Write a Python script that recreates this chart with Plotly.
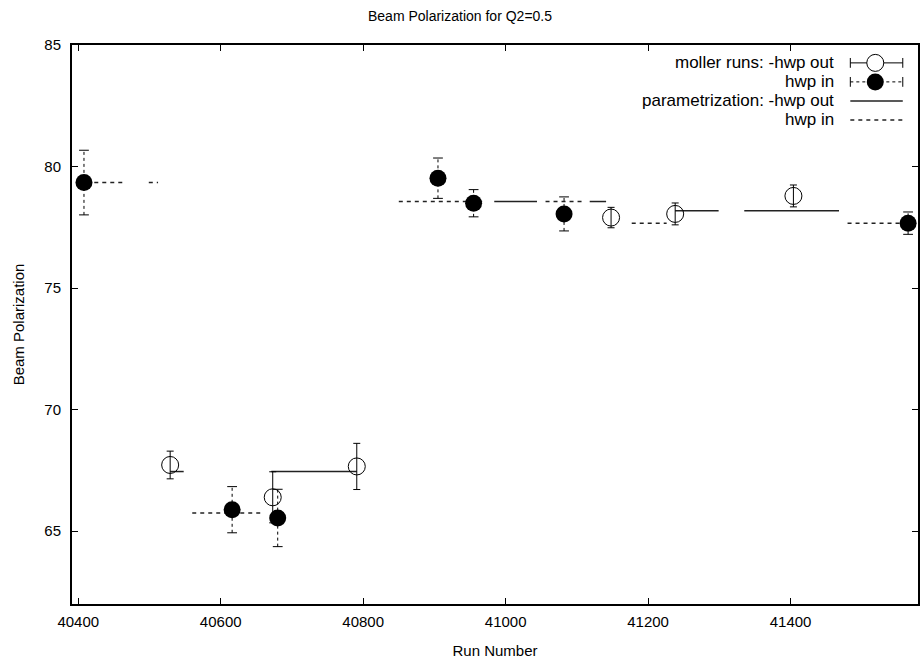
import plotly.graph_objects as go

# ---- data ----
out_runs = [40529, 40673, 40791, 41148, 41238, 41404]
out_pol = [67.72, 66.39, 67.66, 77.90, 78.05, 78.79]
out_err = [0.57, 1.05, 0.95, 0.42, 0.45, 0.45]

in_runs = [40408, 40616, 40680, 40905, 40955, 41082, 41565]
in_pol = [79.34, 65.88, 65.54, 79.52, 78.49, 78.05, 77.67]
in_err = [1.33, 0.95, 1.18, 0.83, 0.56, 0.70, 0.46]

par_out_start = [40529, 40671, 40984, 41118, 41238, 41335]
par_out_end = [40548, 40791, 41044, 41141, 41299, 41468]
par_out_val = [67.45, 67.45, 78.56, 78.56, 78.18, 78.18]

par_in_start = [40400, 40499, 40560, 40850, 41056, 41177, 41480]
par_in_end = [40464, 40512, 40657, 40967, 41110, 41226, 41600]
par_in_val = [79.34, 79.34, 65.74, 78.56, 78.56, 77.67, 77.67]

x_ticks = [40400, 40600, 40800, 41000, 41200, 41400]
y_ticks = [65, 70, 75, 80, 85]

FONT = "Liberation Sans, Arial, Helvetica, sans-serif"
LINE = "#222222"
DASH = "4px,4px"


def segs(starts, ends, vals):
    xs, ys = [], []
    for a, b, v in zip(starts, ends, vals):
        xs += [a, b, None]
        ys += [v, v, None]
    return xs, ys


def vbars(xs_, ys_, es_):
    xs, ys = [], []
    for x, y, e in zip(xs_, ys_, es_):
        xs += [x, x, None]
        ys += [y - e, y + e, None]
    return xs, ys


fig = go.Figure()

# parametrization lines
px, py = segs(par_out_start, par_out_end, par_out_val)
fig.add_trace(go.Scatter(x=px, y=py, mode="lines", line=dict(color=LINE, width=1.5),
                         showlegend=False, hoverinfo="skip"))
qx, qy = segs(par_in_start, par_in_end, par_in_val)
fig.add_trace(go.Scatter(x=qx, y=qy, mode="lines", line=dict(color=LINE, width=1.5, dash=DASH),
                         showlegend=False, hoverinfo="skip"))

# hwp in: dashed error bars + caps
ex, ey = vbars(in_runs, in_pol, in_err)
fig.add_trace(go.Scatter(x=ex, y=ey, mode="lines", line=dict(color="black", width=1, dash="3px,3px"),
                         showlegend=False, hoverinfo="skip"))
cap_x = in_runs + in_runs
cap_y = [p + e for p, e in zip(in_pol, in_err)] + [p - e for p, e in zip(in_pol, in_err)]
fig.add_trace(go.Scatter(x=cap_x, y=cap_y, mode="markers",
                         marker=dict(symbol="line-ew-open", size=7, color="black",
                                     line=dict(color="black", width=1)),
                         showlegend=False, hoverinfo="skip"))

# moller runs hwp out (open circles, solid error bars)
fig.add_trace(go.Scatter(x=out_runs, y=out_pol, mode="markers",
                         error_y=dict(type="data", array=out_err, visible=True, color="black",
                                      thickness=1, width=3.5),
                         marker=dict(symbol="circle-open", size=17, color="black",
                                     line=dict(color="black", width=1)),
                         showlegend=False))
# moller runs hwp in (filled circles)
fig.add_trace(go.Scatter(x=in_runs, y=in_pol, mode="markers",
                         marker=dict(symbol="circle", size=17, color="black"),
                         showlegend=False))

# ---- custom legend (text left, sample right) on an overlay axis in [0,1] ----
lx0, lx1, lxc = 0.920, 0.982, 0.9495
rows = [0.968, 0.934, 0.900, 0.866]
fig.add_trace(go.Scatter(x=[lx0, lx1], y=[rows[0], rows[0]], xaxis="x2", yaxis="y2", mode="lines",
                         line=dict(color="black", width=1), showlegend=False, hoverinfo="skip"))
fig.add_trace(go.Scatter(x=[lx0, lx1], y=[rows[0], rows[0]], xaxis="x2", yaxis="y2", mode="markers",
                         marker=dict(symbol="line-ns-open", size=7, color="black",
                                     line=dict(color="black", width=1)),
                         showlegend=False, hoverinfo="skip"))
fig.add_trace(go.Scatter(x=[lxc], y=[rows[0]], xaxis="x2", yaxis="y2", mode="markers",
                         marker=dict(symbol="circle", size=17, color="white",
                                     line=dict(color="black", width=1)),
                         showlegend=False, hoverinfo="skip"))
fig.add_trace(go.Scatter(x=[lx0, lx1], y=[rows[1], rows[1]], xaxis="x2", yaxis="y2", mode="lines",
                         line=dict(color="black", width=1, dash="3px,3px"), showlegend=False, hoverinfo="skip"))
fig.add_trace(go.Scatter(x=[lx0, lx1], y=[rows[1], rows[1]], xaxis="x2", yaxis="y2", mode="markers",
                         marker=dict(symbol="line-ns-open", size=7, color="black",
                                     line=dict(color="black", width=1)),
                         showlegend=False, hoverinfo="skip"))
fig.add_trace(go.Scatter(x=[lxc], y=[rows[1]], xaxis="x2", yaxis="y2", mode="markers",
                         marker=dict(symbol="circle", size=17, color="black"),
                         showlegend=False, hoverinfo="skip"))
fig.add_trace(go.Scatter(x=[lx0, lx1], y=[rows[2], rows[2]], xaxis="x2", yaxis="y2", mode="lines",
                         line=dict(color=LINE, width=1.5), showlegend=False, hoverinfo="skip"))
fig.add_trace(go.Scatter(x=[lx0, lx1], y=[rows[3], rows[3]], xaxis="x2", yaxis="y2", mode="lines",
                         line=dict(color=LINE, width=1.5, dash=DASH), showlegend=False, hoverinfo="skip"))

legend_texts = ["moller runs: -hwp out", "hwp in", "parametrization: -hwp out", "hwp in"]
for t, r in zip(legend_texts, rows):
    fig.add_annotation(x=0.903, y=r, xref="x2", yref="y2", text=t, showarrow=False,
                       xanchor="right", yanchor="middle", font=dict(family=FONT, size=17, color="black"))

axis_common = dict(showline=True, linecolor="black", linewidth=2, mirror="ticks",
                   ticks="inside", ticklen=6, tickcolor="black", tickwidth=1,
                   showgrid=False, zeroline=False,
                   tickfont=dict(family=FONT, size=15, color="black"))

fig.update_layout(
    width=920, height=666,
    margin=dict(l=72, r=0, t=45, b=62),
    paper_bgcolor="white", plot_bgcolor="white",
    title=dict(text="Beam Polarization for Q2=0.5", x=0.5, xanchor="center", y=0.976, yanchor="middle",
               font=dict(family=FONT, size=14, color="black")),
    xaxis=dict(range=[40391.2, 41578.9], tickvals=x_ticks, ticktext=[str(v) for v in x_ticks],
               ticklabelstandoff=3,
               title=dict(text="Run Number", font=dict(family=FONT, size=15, color="black"), standoff=16),
               **axis_common),
    yaxis=dict(range=[62, 85], tickvals=y_ticks, ticktext=[str(v) for v in y_ticks],
               ticklabelstandoff=6,
               title=dict(text="Beam Polarization", font=dict(family=FONT, size=15, color="black"), standoff=16),
               **axis_common),
    xaxis2=dict(range=[0, 1], overlaying="x", visible=False, fixedrange=True),
    yaxis2=dict(range=[0, 1], overlaying="y", visible=False, fixedrange=True),
    showlegend=False,
)

fig.write_html("out.html", post_script="document.body.style.margin='0px';",
               config={"displayModeBar": False})
